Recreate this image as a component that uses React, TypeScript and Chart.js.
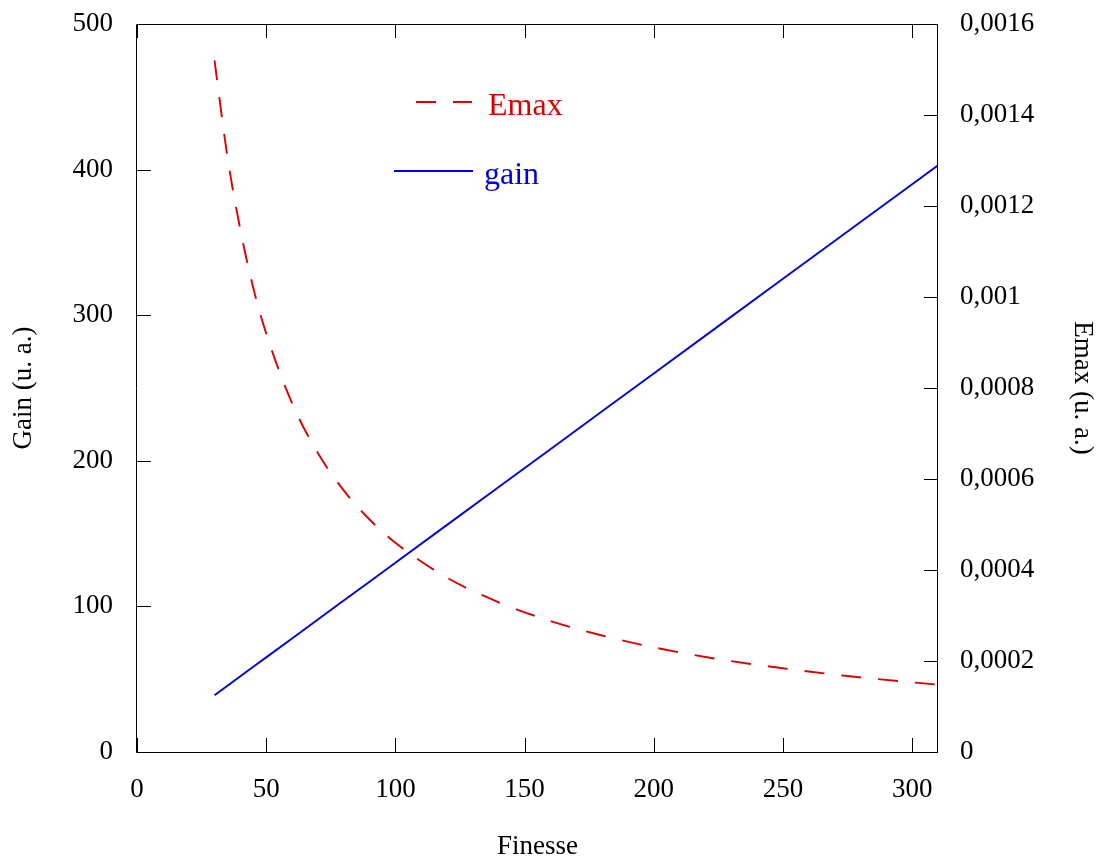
import { useEffect, useRef } from 'react';
import { Chart, registerables } from 'chart.js';

Chart.register(...registerables);

// ---- data ----
const finesse = [30, 35, 40, 45, 50, 60, 70, 80, 90, 100, 120, 140, 160, 180, 200, 225, 250, 275, 300, 310];
const gain = [39, 45.5, 52, 58.5, 65, 78, 91, 104, 117, 130, 156, 182, 208, 234, 260, 292.5, 325, 357.5, 390, 403];
const emax = [0.00152, 0.001308, 0.001148, 0.00102, 0.00092, 0.000767, 0.000657, 0.000575, 0.000511, 0.00046,
  0.000383, 0.000329, 0.000288, 0.000256, 0.00023, 0.000204, 0.000184, 0.000167, 0.000153, 0.000148];

const xTickValues = [0, 50, 100, 150, 200, 250, 300];
const xTickLabels = ['0', '50', '100', '150', '200', '250', '300'];
const gainTickValues = [0, 100, 200, 300, 400, 500];
const gainTickLabels = ['0', '100', '200', '300', '400', '500'];
const emaxTickValues = [0, 0.0002, 0.0004, 0.0006, 0.0008, 0.001, 0.0012, 0.0014, 0.0016];
const emaxTickLabels = ['0', '0,0002', '0,0004', '0,0006', '0,0008', '0,001', '0,0012', '0,0014', '0,0016'];

const seriesLabels = ['Emax', 'gain'];
const xTitle = 'Finesse';
const gainTitle = 'Gain (u. a.)';
const emaxTitle = 'Emax (u. a.)';

const RED = '#dd0000';
const BLUE = '#0000dd';
const FONT = "'Liberation Serif', 'Times New Roman', serif";

const setTicks = (values: number[]) => (scale: any) => {
  scale.ticks = values.map((v) => ({ value: v }));
};

const framePlugin = {
  id: 'frameTicks',
  afterDatasetsDraw(chart: any) {
    const { ctx, chartArea, scales } = chart;
    const { left, right, top, bottom } = chartArea;
    const L = 14;
    ctx.save();
    ctx.strokeStyle = '#000';
    ctx.lineWidth = 1;
    ctx.setLineDash([]);
    ctx.beginPath();
    ctx.rect(left - 0.5, top + 0.5, right - left, bottom - top);
    ctx.stroke();
    ctx.beginPath();
    scales.x.ticks.forEach((t: any) => {
      const px = Math.round(scales.x.getPixelForValue(t.value)) + 0.5;
      ctx.moveTo(px, bottom);
      ctx.lineTo(px, bottom - L);
      ctx.moveTo(px, top);
      ctx.lineTo(px, top + L);
    });
    scales.y.ticks.forEach((t: any) => {
      const py = Math.round(scales.y.getPixelForValue(t.value)) + 0.5;
      ctx.moveTo(left, py);
      ctx.lineTo(left + L, py);
    });
    scales.y1.ticks.forEach((t: any) => {
      const py = Math.round(scales.y1.getPixelForValue(t.value)) + 0.5;
      ctx.moveTo(right, py);
      ctx.lineTo(right - L, py);
    });
    ctx.stroke();
    ctx.restore();
  },
};

const legendPlugin = {
  id: 'insideLegend',
  afterDraw(chart: any) {
    const { ctx } = chart;
    const items = [
      { ds: chart.data.datasets[0], x0: 416, x1: 472, y: 102, tx: 488, ty: 115 },
      { ds: chart.data.datasets[1], x0: 394, x1: 473, y: 171, tx: 484, ty: 184 },
    ];
    ctx.save();
    items.forEach((it) => {
      ctx.strokeStyle = it.ds.borderColor;
      ctx.lineWidth = it.ds.borderWidth;
      ctx.setLineDash(it.ds.borderDash || []);
      ctx.beginPath();
      ctx.moveTo(it.x0, it.y);
      ctx.lineTo(it.x1, it.y);
      ctx.stroke();
      ctx.setLineDash([]);
      ctx.fillStyle = it.ds.borderColor;
      ctx.font = `32px ${FONT}`;
      ctx.textAlign = 'left';
      ctx.textBaseline = 'alphabetic';
      ctx.fillText(it.ds.label, it.tx, it.ty);
    });
    ctx.restore();
  },
};

const fitV = (w: number) => (s: any) => {
  s.width = w;
  s.paddingTop = 0;
  s.paddingBottom = 0;
};

export default function App() {
  const ref = useRef<HTMLCanvasElement | null>(null);

  useEffect(() => {
    document.body.style.margin = '0';
    const canvas = ref.current;
    if (!canvas) return;
    const tickFont = { family: FONT, size: 27 };
    const chart = new Chart(canvas, {
      type: 'line',
      data: {
        datasets: [
          {
            label: seriesLabels[0],
            data: finesse.map((f, i) => ({ x: f, y: emax[i] })),
            yAxisID: 'y1',
            borderColor: RED,
            borderWidth: 1.9,
            borderDash: [20, 17],
            pointRadius: 0,
            cubicInterpolationMode: 'monotone',
            fill: false,
          },
          {
            label: seriesLabels[1],
            data: finesse.map((f, i) => ({ x: f, y: gain[i] })),
            yAxisID: 'y',
            borderColor: BLUE,
            borderWidth: 1.9,
            pointRadius: 0,
            fill: false,
          },
        ],
      },
      options: {
        responsive: false,
        animation: false,
        layout: { padding: { top: 24, left: 0, right: 0, bottom: 0 } },
        plugins: { legend: { display: false }, tooltip: { enabled: false } },
        scales: {
          x: {
            type: 'linear',
            min: 0,
            max: 310,
            afterBuildTicks: setTicks(xTickValues),
            afterFit: (s: any) => { s.height = 109; s.paddingLeft = 0; s.paddingRight = 0; },
            grid: { display: false, drawTicks: false },
            border: { display: false },
            ticks: {
              font: tickFont,
              color: '#000',
              padding: 22,
              maxRotation: 0,
              autoSkip: false,
              callback: (_v: any, i: number) => xTickLabels[i],
            },
            title: { display: true, text: xTitle, font: tickFont, color: '#000', padding: { top: 0, bottom: -2 } },
          },
          y: {
            type: 'linear',
            position: 'left',
            min: 0,
            max: 500,
            afterBuildTicks: setTicks(gainTickValues),
            afterFit: fitV(137),
            grid: { display: false, drawTicks: false },
            border: { display: false },
            ticks: {
              font: tickFont,
              color: '#000',
              padding: 24,
              autoSkip: false,
              callback: (_v: any, i: number) => gainTickLabels[i],
            },
            title: { display: true, text: gainTitle, font: tickFont, color: '#000', padding: { top: 8, bottom: 0 } },
          },
          y1: {
            type: 'linear',
            position: 'right',
            min: 0,
            max: 0.0016,
            afterBuildTicks: setTicks(emaxTickValues),
            afterFit: fitV(167),
            grid: { display: false, drawTicks: false },
            border: { display: false },
            ticks: {
              font: tickFont,
              color: '#000',
              padding: 22,
              autoSkip: false,
              callback: (_v: any, i: number) => emaxTickLabels[i],
            },
            title: { display: true, text: emaxTitle, font: tickFont, color: '#000', padding: { top: 7, bottom: 0 } },
          },
        },
      } as any,
      plugins: [framePlugin, legendPlugin],
    });
    return () => chart.destroy();
  }, []);

  return (
    <div style={{ width: 1105, height: 861 }}>
      <canvas ref={ref} width={1105} height={861} style={{ display: 'block' }} />
    </div>
  );
}
